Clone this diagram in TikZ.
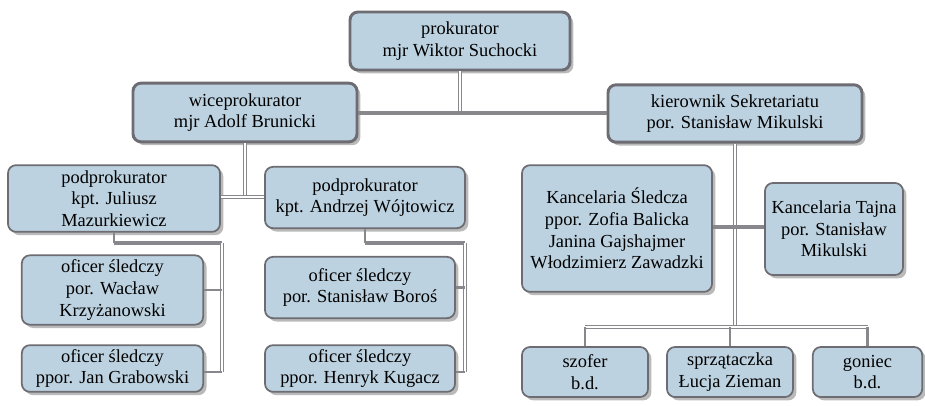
\documentclass[tikz,border=0pt]{standalone}
\usepackage{fontspec}
\setmainfont{Liberation Serif}
\usetikzlibrary{shadows}
\definecolor{boxfill}{RGB}{189,210,224}
\definecolor{boxline}{RGB}{108,108,114}
\definecolor{connc}{RGB}{135,135,140}
\tikzset{
  box/.style={draw=boxline, fill=boxfill, rounded corners=6pt, align=center,
    inner sep=2pt, font=\fontsize{13.8}{16.2}\selectfont,
    drop shadow={shadow xshift=2.5pt, shadow yshift=-2.5pt, fill=gray!60, opacity=0.9}},
  bigbox/.style={box, line width=2.2pt},
  smallbox/.style={box, line width=1.3pt},
  vconn/.style={draw=connc, line width=0.6pt, double=white, double distance=1.6pt},
  hconn/.style={draw=connc, line width=2.4pt},
  tconn/.style={draw=connc, line width=1.8pt},
}
\begin{document}
\begin{tikzpicture}[x=0.75pt,y=-0.75pt]
\useasboundingbox (0,0) rectangle (925,405);
% junction coordinates
\coordinate (j1) at (460,113);
\coordinate (j2) at (245,197);
\coordinate (jl1) at (114,243);
\coordinate (jl2) at (222,243);
\coordinate (jl3) at (222,372);
\coordinate (jr1) at (365,243);
\coordinate (jr2) at (465,243);
\coordinate (jr3) at (465,372);
\coordinate (jk1) at (735,227);
\coordinate (jk2) at (735,327);
\coordinate (jb1) at (585,327);
\coordinate (jb2) at (867.5,327);
% boxes
\node[bigbox, minimum width=165pt, minimum height=43.5pt] (top) at (460,41) {prokurator\\mjr Wiktor Suchocki};
\node[bigbox, minimum width=168pt, minimum height=44pt] (wice) at (245,112.5) {wiceprokurator\\mjr Adolf Brunicki};
\node[bigbox, minimum width=190.5pt, minimum height=43pt] (kier) at (735,113.5) {kierownik Sekretariatu\\por. Stanisław Mikulski};
\node[smallbox, minimum width=159pt, minimum height=50pt] (jul) at (114,198.5) {podprokurator\\kpt. Juliusz\\Mazurkiewicz};
\node[smallbox, minimum width=150pt, minimum height=46pt] (and) at (365,197.5) {podprokurator\\kpt. Andrzej Wójtowicz};
\node[smallbox, minimum width=136pt, minimum height=52pt] (wac) at (112.5,290) {oficer śledczy\\por. Wacław\\Krzyżanowski};
\node[smallbox, minimum width=136pt, minimum height=35pt] (gra) at (112.5,368.5) {oficer śledczy\\ppor. Jan Grabowski};
\node[smallbox, minimum width=142.5pt, minimum height=46pt] (bor) at (360,287.5) {oficer śledczy\\por. Stanisław Boroś};
\node[smallbox, minimum width=142.5pt, minimum height=35pt] (kug) at (360,368.5) {oficer śledczy\\ppor. Henryk Kugacz};
\node[smallbox, minimum width=142.5pt, minimum height=95pt] (sled) at (617,228.5) {Kancelaria Śledcza\\ppor. Zofia Balicka\\Janina Gajshajmer\\Włodzimierz Zawadzki};
\node[smallbox, minimum width=103.5pt, minimum height=69pt] (taj) at (834,229) {Kancelaria Tajna\\por. Stanisław\\Mikulski};
\node[smallbox, minimum width=94.5pt, minimum height=37.5pt] (szo) at (585,372) {szofer\\b.d.};
\node[smallbox, minimum width=94.5pt, minimum height=37.5pt] (spr) at (730,372) {sprzątaczka\\Łucja Zieman};
\node[smallbox, minimum width=82pt, minimum height=37.5pt] (gon) at (867.5,372) {goniec\\b.d.};
% connectors
\draw[vconn] (top.south) -- (j1);
\draw[hconn] (wice.east |- j1) -- (kier.west |- j1);
\draw[vconn] (wice.south) -- (j2);
\draw[vconn] (jul.east |- j2) -- (and.west |- j2);
% left branch
\draw[tconn] (jul.south) -- (jl1);
\draw[hconn] (jl1) -- (jl2);
\draw[vconn] (jl2) -- (jl3);
\draw[tconn] (wac.east) -- (wac.east -| jl2);
\draw[tconn] (gra.east |- jl3) -- (jl3);
% middle branch
\draw[tconn] (and.south) -- (jr1);
\draw[hconn] (jr1) -- (jr2);
\draw[vconn] (jr2) -- (jr3);
\draw[tconn] (bor.east) -- (bor.east -| jr2);
\draw[tconn] (kug.east |- jr3) -- (jr3);
% right branch
\draw[vconn] (kier.south) -- (jk2);
\draw[hconn] (sled.east |- jk1) -- (taj.west |- jk1);
\draw[vconn] (jb1) -- (jb2);
\draw[tconn] (jb1) -- (szo.north);
\draw[tconn] (spr.north |- jb1) -- (spr.north);
\draw[tconn] (jb2) -- (gon.north);
\end{tikzpicture}
\end{document}
